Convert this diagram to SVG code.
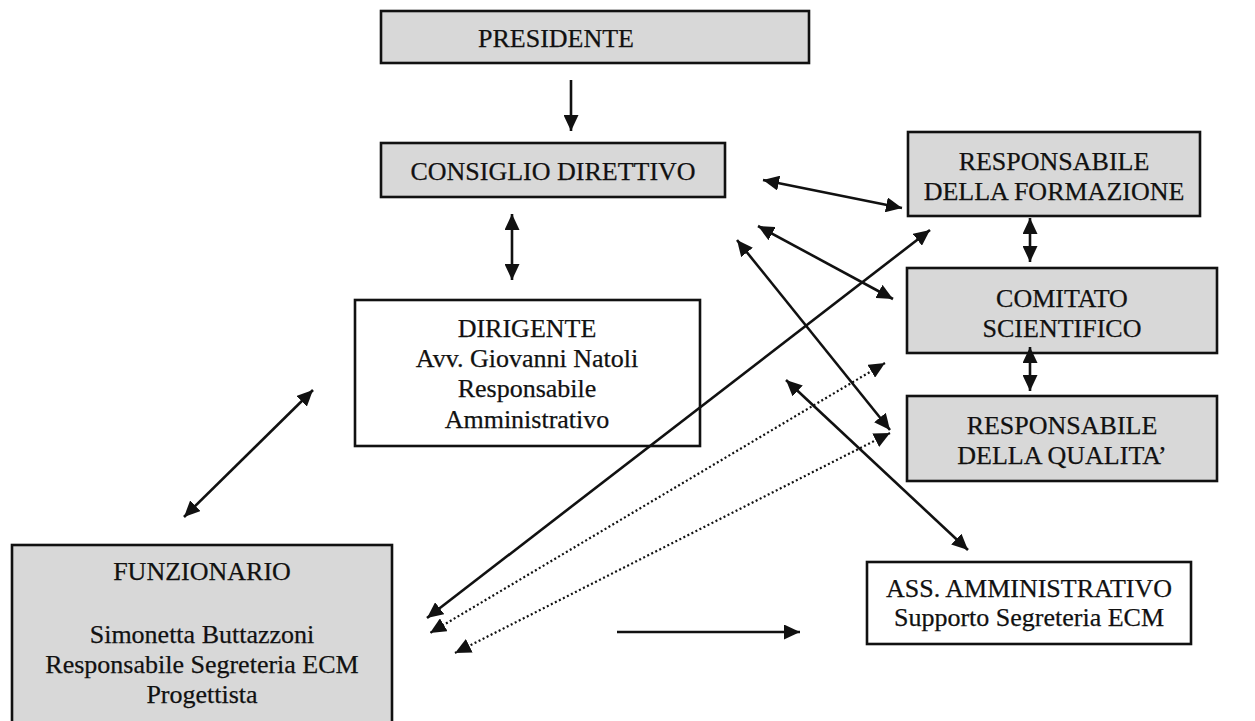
<svg xmlns="http://www.w3.org/2000/svg" width="1255" height="721" viewBox="0 0 1255 721">
<style>
.box{stroke:#111;stroke-width:2.6;}
.g{fill:#d8d8d8;}
.w{fill:#fff;}
text{font-family:"Liberation Serif","Times New Roman",serif;font-size:26px;fill:#111;text-anchor:middle;stroke:#111;stroke-width:0.25;}
.c{fill:none;stroke:#111;stroke-width:2.6;}
.d{fill:none;stroke:#111;stroke-width:2.2;stroke-dasharray:2 2.5;}
</style>
<defs>
<marker id="ah" viewBox="0 0 16 15" refX="16" refY="7.5" markerWidth="16" markerHeight="15" markerUnits="userSpaceOnUse" orient="auto-start-reverse">
<path d="M0,0 L16,7.5 L0,15 z" fill="#111"/>
</marker>
</defs>
<rect width="1255" height="721" fill="#fff"/>
<g id="presidente"><rect class="box g" x="381" y="11" width="428" height="52"/><text x="556" y="47">PRESIDENTE</text></g>
<g id="consiglio"><rect class="box g" x="381" y="143" width="344" height="54"/><text x="553" y="180">CONSIGLIO DIRETTIVO</text></g>
<g id="formazione"><rect class="box g" x="908" y="132" width="292" height="84"/><text x="1054" y="170">RESPONSABILE</text><text x="1054" y="200">DELLA FORMAZIONE</text></g>
<g id="comitato"><rect class="box g" x="907" y="268" width="310" height="85"/><text x="1062" y="307">COMITATO</text><text x="1062" y="337">SCIENTIFICO</text></g>
<g id="qualita"><rect class="box g" x="907" y="396" width="310" height="85"/><text x="1062" y="434">RESPONSABILE</text><text x="1062" y="464">DELLA QUALITA’</text></g>
<g id="dirigente"><rect class="box w" x="355" y="300" width="345" height="146"/><text x="527" y="337">DIRIGENTE</text><text x="527" y="367">Avv. Giovanni Natoli</text><text x="527" y="397">Responsabile</text><text x="527" y="428">Amministrativo</text></g>
<g id="funzionario"><rect class="box g" x="12" y="545" width="380" height="180"/><text x="202" y="580">FUNZIONARIO</text><text x="202" y="643">Simonetta Buttazzoni</text><text x="202" y="673">Responsabile Segreteria ECM</text><text x="202" y="703">Progettista</text></g>
<g id="ass"><rect class="box w" x="867" y="562" width="324" height="82"/><text x="1029" y="597">ASS. AMMINISTRATIVO</text><text x="1029" y="626">Supporto Segreteria ECM</text></g>
<g id="connectors">
<line class="c" x1="571" y1="80" x2="571" y2="131" marker-end="url(#ah)"/>
<line class="c" x1="512" y1="214" x2="512" y2="280" marker-start="url(#ah)" marker-end="url(#ah)"/>
<line class="c" x1="763" y1="180" x2="902" y2="208" marker-start="url(#ah)" marker-end="url(#ah)"/>
<line class="c" x1="758" y1="226" x2="893" y2="299" marker-start="url(#ah)" marker-end="url(#ah)"/>
<line class="c" x1="737" y1="240" x2="890" y2="430" marker-start="url(#ah)" marker-end="url(#ah)"/>
<line class="c" x1="786" y1="380" x2="968" y2="550" marker-start="url(#ah)" marker-end="url(#ah)"/>
<line class="c" x1="930" y1="230" x2="427" y2="618" marker-start="url(#ah)" marker-end="url(#ah)"/>
<line class="d" x1="885" y1="363" x2="430" y2="633" marker-start="url(#ah)" marker-end="url(#ah)"/>
<line class="d" x1="890" y1="433" x2="455" y2="653" marker-start="url(#ah)" marker-end="url(#ah)"/>
<line class="c" x1="313" y1="390" x2="184" y2="517" marker-start="url(#ah)" marker-end="url(#ah)"/>
<line class="c" x1="617" y1="632" x2="800" y2="632" marker-end="url(#ah)"/>
<line class="c" x1="1030" y1="218" x2="1030" y2="262" marker-start="url(#ah)" marker-end="url(#ah)"/>
<line class="c" x1="1030" y1="347" x2="1030" y2="391" marker-start="url(#ah)" marker-end="url(#ah)"/>
</g>
</svg>
